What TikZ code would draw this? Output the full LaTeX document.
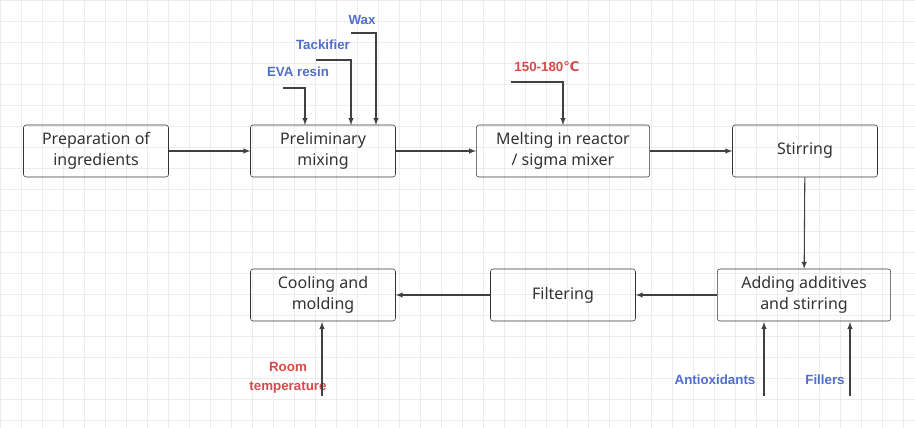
\documentclass[tikz,border=0pt]{standalone}
\usepackage{fontspec}
\setmainfont{Noto Sans}
\newfontfamily\lblfont{Liberation Sans}
\usetikzlibrary{positioning}
\definecolor{inblue}{RGB}{80,110,205}
\definecolor{inred}{RGB}{215,75,75}
\definecolor{gridgray}{RGB}{236,236,236}
\tikzset{
  procbox/.style={draw=black!80,rounded corners=2pt,minimum width=108.75pt,minimum height=39pt,align=center,font=\fontsize{12}{15.5}\selectfont,text=black!80},
  widebox/.style={procbox,minimum width=130pt},
  flow/.style={draw=black!75,line width=0.8pt,-latex},
  inb/.style={text=inblue,font=\lblfont\bfseries\fontsize{10}{12}\selectfont},
  inr/.style={text=inred,font=\lblfont\bfseries\fontsize{10}{14}\selectfont,align=center}
}
\begin{document}
\begin{tikzpicture}[x=0.75pt,y=-0.75pt]
\useasboundingbox (0,0) rectangle (915,428);
\fill[white] (0,0) rectangle (915,428);
% background grid
\foreach \gx in {0,21,...,915} \draw[gridgray,line width=0.4pt] (\gx,0) -- (\gx,428);
\foreach \gy in {0,21,...,428} \draw[gridgray,line width=0.4pt] (0,\gy) -- (915,\gy);
% process steps
\node[procbox] (prep) at (96,151) {Preparation of\\ingredients};
\node[procbox] (mix) at (323,151) {Preliminary\\mixing};
\node[widebox] (melt) at (563,151) {Melting in reactor\\/ sigma mixer};
\node[procbox] (stir) at (805,151) {Stirring};
\node[widebox] (add) at (804,295) {Adding additives\\and stirring};
\node[procbox] (filt) at (563,295) {Filtering};
\node[procbox] (cool) at (323,295) {Cooling and\\molding};
% inputs
\node[inb] (eva) at (298,72) {EVA resin};
\node[inb] (tack) at (323,45) {Tackifier};
\node[inb] (wax) at (362,20) {Wax};
\node[inr] (temp) at (547,67) {150-180\fontspec{DejaVu Sans}℃};
\node[inr] (room) at (288,378) {Room\\temperature};
\node[inb] (anti) at (715,380) {Antioxidants};
\node[inb] (fill) at (825,380) {Fillers};
\coordinate (evaS) at (283,88);
\coordinate (tackS) at (316,60);
\coordinate (waxS) at (351,33);
\coordinate (tempS) at (511,82);
\coordinate (roomS) at (322,396);
\coordinate (antiS) at (764,396);
\coordinate (fillS) at (850,396);
% connectors
\draw[flow] (prep) -- (mix);
\draw[flow] (mix) -- (melt);
\draw[flow] (melt) -- (stir);
\draw[flow] (stir) -- (add);
\draw[flow] (add) -- (filt);
\draw[flow] (filt) -- (cool);
\draw[flow] (evaS) -| (305,125);
\draw[flow] (tackS) -| (351,125);
\draw[flow] (waxS) -| (376,125);
\draw[flow] (tempS) -| (563,125);
\draw[flow] (roomS) -- (322,322);
\draw[flow] (antiS) -- (764,322);
\draw[flow] (fillS) -- (850,322);
\end{tikzpicture}
\end{document}
